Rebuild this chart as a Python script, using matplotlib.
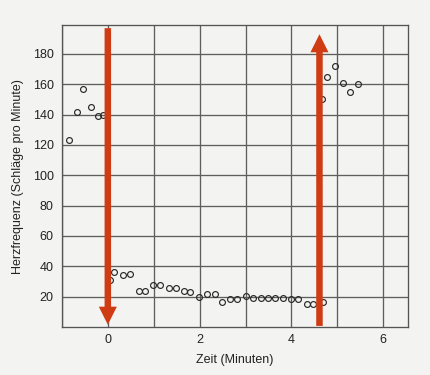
import matplotlib
matplotlib.use("Agg")
import matplotlib.pyplot as plt
from matplotlib.patches import ArrowStyle

plt.rcParams['font.family'] = ['Liberation Sans', 'DejaVu Sans']

# Data (time in minutes, heart rate in beats per minute)
pre_time = [-0.85, -0.68, -0.53, -0.37, -0.21, -0.11]
pre_rate = [123, 142, 157, 145, 139, 140]

dive_time = [0.05, 0.14, 0.32, 0.48, 0.67, 0.81, 0.99, 1.14, 1.33, 1.48, 1.65, 1.80,
             1.99, 2.15, 2.33, 2.49, 2.67, 2.82, 3.00, 3.17, 3.33, 3.49, 3.65, 3.81,
             3.99, 4.14, 4.33, 4.48, 4.69]
dive_rate = [31, 36.5, 34, 35, 24, 24, 28, 28, 26, 26, 24, 23,
             19.5, 22, 22, 16.5, 18.3, 18.3, 20.7, 19, 19, 19, 19, 19,
             18.3, 18.3, 15.2, 15.2, 16.5]

post_time = [4.67, 4.78, 4.94, 5.12, 5.28, 5.46]
post_rate = [150, 165, 172, 161, 155, 160]

# Annotation arrows: (x, start y, end y)
arrow_down = (0.0, 197, 1.5)
arrow_up = (4.61, 0.7, 193)

x_ticks = [0, 2, 4, 6]
x_grid = [-1, 0, 1, 2, 3, 4, 5, 6]
y_ticks = [20, 40, 60, 80, 100, 120, 140, 160, 180]

bg = '#f3f3f1'
red = '#cf3c14'
gridc = '#5e5e5e'

fig = plt.figure(figsize=(4.30, 3.75), dpi=100, facecolor=bg)
ax = fig.add_axes([0.144, 0.128, 0.805, 0.805], facecolor=bg)

ax.set_xlim(-1, 6.54)
ax.set_ylim(0, 199)

ax.set_xticks(x_grid, minor=True)
ax.set_xticks(x_ticks)
ax.set_yticks(y_ticks)
ax.grid(True, which='both', axis='x', color=gridc, lw=0.95)
ax.grid(True, which='major', axis='y', color=gridc, lw=0.95)
ax.set_axisbelow(True)
ax.tick_params(which='both', length=0, labelsize=9, colors='#222222')
ax.tick_params(axis='y', pad=6)
ax.tick_params(axis='x', pad=5)
for s in ax.spines.values():
    s.set_color('#555555')
    s.set_linewidth(0.95)

mk = dict(linestyle='none', marker='o', markersize=4.2, markerfacecolor='none',
          markeredgecolor='#2a2a2a', markeredgewidth=0.85)
ax.plot(pre_time, pre_rate, **mk)
ax.plot(dive_time, dive_rate, **mk)
ax.plot(post_time, post_rate, **mk)

style = ArrowStyle('Simple', head_length=1.0, head_width=1.0, tail_width=0.36)
for (x, y0, y1) in (arrow_down, arrow_up):
    ax.annotate('', xy=(x, y1), xytext=(x, y0),
                arrowprops=dict(arrowstyle=style, mutation_scale=13, color=red,
                                shrinkA=0, shrinkB=0, lw=0))

ax.set_xlabel('Zeit (Minuten)', fontsize=9, color='#222222', labelpad=6)
ax.set_ylabel('Herzfrequenz (Schläge pro Minute)', fontsize=9, color='#222222', labelpad=6)

fig.savefig('out.png', dpi=100, facecolor=bg)
